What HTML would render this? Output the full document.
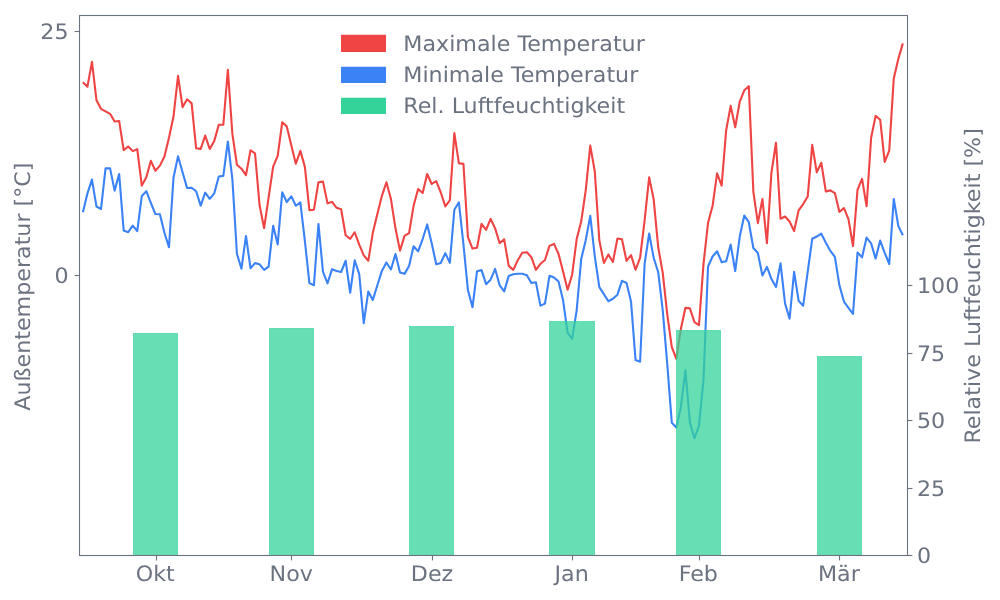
<!DOCTYPE html>
<html lang="de"><head><meta charset="utf-8"><title>Temperatur und Luftfeuchtigkeit</title>
<style>html,body{margin:0;padding:0;background:#fff;overflow:hidden}svg{display:block}text{font-family:"DejaVu Sans","Liberation Sans",sans-serif;font-size:22.2px;fill:#6b7280;text-rendering:geometricPrecision}</style></head><body>
<svg width="1000" height="600" viewBox="0 0 1000 600">
<rect width="1000" height="600" fill="#fff"/>
<g>
<polyline points="82.90,82.20 87.43,86.65 91.96,61.85 96.49,100.30 101.02,108.80 105.55,111.30 110.08,113.80 114.61,121.53 119.14,120.94 123.67,150.16 128.20,146.45 132.73,151.13 137.26,149.18 141.79,185.61 146.32,177.20 150.85,160.85 155.38,170.72 159.91,165.60 164.44,156.55 168.97,137.80 173.50,116.55 178.03,75.85 182.56,107.12 187.09,99.31 191.62,103.40 196.15,148.30 200.68,148.88 205.21,135.60 209.74,149.02 214.27,140.90 218.80,124.70 223.33,124.70 227.86,69.85 232.39,134.05 236.92,164.70 241.45,168.70 245.98,175.08 250.51,150.25 255.04,153.40 259.57,205.30 264.10,228.10 268.63,197.30 273.16,166.55 277.69,155.90 282.22,122.31 286.75,126.40 291.28,145.30 295.81,163.75 300.34,150.85 304.87,166.90 309.40,210.18 313.93,209.70 318.46,182.20 322.99,181.59 327.52,203.35 332.05,201.90 336.58,207.80 341.11,209.30 345.64,235.30 350.17,238.93 354.70,232.24 359.23,244.70 363.76,255.30 368.29,260.71 372.82,232.80 377.35,214.05 381.88,195.80 386.41,182.35 390.94,199.05 395.47,228.30 400.00,250.60 404.53,235.90 409.06,233.05 413.59,205.80 418.12,189.06 422.65,192.96 427.18,173.95 431.71,183.95 436.24,181.09 440.77,192.50 445.30,206.34 449.83,200.30 454.36,133.10 458.89,163.40 463.42,163.80 467.95,237.20 472.48,248.57 477.01,247.70 481.54,223.80 486.07,229.83 490.60,218.95 495.13,228.40 499.66,243.26 504.19,239.31 508.72,265.90 513.25,269.91 517.78,260.30 522.31,252.70 526.84,252.23 531.37,257.20 535.90,269.84 540.43,263.80 544.96,260.05 549.49,245.90 554.02,243.93 558.55,254.05 563.08,271.55 567.61,289.75 572.14,274.70 576.67,239.05 581.20,221.55 585.73,190.30 590.26,145.60 594.79,171.55 599.32,240.30 603.85,262.90 608.38,254.54 612.91,261.93 617.44,238.45 621.97,239.30 626.50,260.89 631.03,255.09 635.56,269.75 640.09,257.80 644.62,220.30 649.15,177.35 653.68,199.30 658.21,247.30 662.74,272.80 667.27,314.30 671.80,347.20 676.33,358.75 680.86,329.05 685.39,307.84 689.92,308.40 694.45,322.20 698.98,325.20 703.51,263.80 708.04,222.80 712.57,205.90 717.10,173.35 721.63,185.60 726.16,130.30 730.69,105.85 735.22,127.25 739.75,101.55 744.28,90.30 748.81,86.17 753.34,191.55 757.87,223.10 762.40,198.95 766.93,243.10 771.46,172.30 775.99,142.75 780.52,218.72 785.05,216.45 789.58,221.55 794.11,231.00 798.64,210.30 803.17,204.05 807.70,196.55 812.23,144.85 816.76,172.25 821.29,162.75 825.82,191.51 830.35,190.38 834.88,193.05 839.41,212.05 843.94,208.07 848.47,219.05 853.00,246.00 857.53,189.70 862.06,178.95 866.59,206.25 871.12,137.80 875.65,115.80 880.18,119.70 884.71,161.90 889.24,150.55 893.77,78.40 898.30,59.05 902.83,43.40" fill="none" stroke="#ef4444" stroke-width="2.1" stroke-linejoin="round" stroke-linecap="butt"/>
<polyline points="82.90,212.20 87.43,193.40 91.96,179.60 96.49,206.55 101.02,208.97 105.55,168.40 110.08,168.40 114.61,190.60 119.14,173.95 123.67,230.55 128.20,232.15 132.73,225.66 137.26,231.10 141.79,195.90 146.32,191.20 150.85,202.80 155.38,214.05 159.91,214.30 164.44,232.80 168.97,247.25 173.50,177.80 178.03,156.25 182.56,172.20 187.09,188.04 191.62,187.72 196.15,191.30 200.68,205.60 205.21,192.62 209.74,198.86 214.27,193.30 218.80,176.55 223.33,175.90 227.86,141.45 232.39,179.30 236.92,253.70 241.45,268.75 245.98,235.95 250.51,268.22 255.04,263.13 259.57,264.30 264.10,269.93 268.63,266.55 273.16,225.85 277.69,244.40 282.22,192.25 286.75,201.99 291.28,196.28 295.81,205.78 300.34,202.42 304.87,240.80 309.40,283.10 313.93,285.23 318.46,223.95 322.99,271.90 327.52,283.30 332.05,269.16 336.58,270.90 341.11,272.01 345.64,260.75 350.17,292.75 354.70,260.25 359.23,274.05 363.76,323.10 368.29,291.45 372.82,300.00 377.35,285.30 381.88,270.90 386.41,262.47 390.94,269.45 395.47,253.95 400.00,272.55 404.53,273.86 409.06,265.90 413.59,246.24 418.12,251.36 422.65,239.05 427.18,224.45 431.71,243.30 436.24,264.26 440.77,263.05 445.30,253.10 449.83,262.90 454.36,209.70 458.89,202.28 463.42,244.05 467.95,290.30 472.48,307.25 477.01,271.30 481.54,270.13 486.07,284.15 490.60,279.70 495.13,268.95 499.66,285.30 504.19,291.34 508.72,275.90 513.25,274.30 517.78,273.80 522.31,273.80 526.84,275.30 531.37,283.02 535.90,282.25 540.43,305.63 544.96,303.60 549.49,275.81 554.02,277.55 558.55,281.55 563.08,300.30 567.61,332.80 572.14,338.84 576.67,310.30 581.20,259.05 585.73,240.30 590.26,215.85 594.79,256.30 599.32,287.20 603.85,294.05 608.38,301.22 612.91,298.80 617.44,294.70 621.97,280.84 626.50,283.05 631.03,301.55 635.56,360.05 640.09,361.74 644.62,263.80 649.15,233.45 653.68,257.80 658.21,272.20 662.74,310.30 667.27,364.05 671.80,422.80 676.33,427.39 680.86,407.20 685.39,370.25 689.92,422.80 694.45,438.10 698.98,425.90 703.51,379.30 708.04,266.55 712.57,256.55 717.10,251.24 721.63,262.17 726.16,261.30 730.69,244.60 735.22,271.00 739.75,236.55 744.28,215.48 748.81,222.20 753.34,248.05 757.87,253.05 762.40,275.50 766.93,266.95 771.46,279.05 775.99,286.93 780.52,263.35 785.05,303.40 789.58,318.75 794.11,271.85 798.64,300.90 803.17,305.73 807.70,271.80 812.23,238.80 816.76,236.55 821.29,233.59 825.82,242.80 830.35,250.90 834.88,256.80 839.41,285.30 843.94,301.55 848.47,307.80 853.00,313.84 857.53,252.52 862.06,257.37 866.59,237.58 871.12,243.40 875.65,258.60 880.18,240.55 884.71,252.80 889.24,264.00 893.77,198.95 898.30,225.90 902.83,235.30" fill="none" stroke="#3b82f6" stroke-width="2.1" stroke-linejoin="round" stroke-linecap="butt"/>
</g>
<g fill="#34d399" fill-opacity="0.75">
<rect x="133" y="333" width="45" height="222.5"/>
<rect x="269" y="328" width="45" height="227.5"/>
<rect x="409" y="326" width="45" height="229.5"/>
<rect x="549" y="321" width="46" height="234.5"/>
<rect x="676" y="330" width="45" height="225.5"/>
<rect x="817" y="356" width="45" height="199.5"/>
</g>
<g fill="none" stroke="#34d399" stroke-opacity="0.1" stroke-width="1">
<path d="M133.5,555.5 V333.5 H177.5 V555.5"/>
<path d="M269.5,555.5 V328.5 H313.5 V555.5"/>
<path d="M409.5,555.5 V326.5 H453.5 V555.5"/>
<path d="M549.5,555.5 V321.5 H594.5 V555.5"/>
<path d="M676.5,555.5 V330.5 H720.5 V555.5"/>
<path d="M817.5,555.5 V356.5 H861.5 V555.5"/>
</g>
<rect x="79.5" y="15.5" width="828.0" height="540.0" fill="none" stroke="#6b7280" stroke-width="1.1"/>
<g stroke="#6b7280" stroke-width="1.1">
<line x1="156.5" y1="555.5" x2="156.5" y2="560.4"/>
<line x1="291.5" y1="555.5" x2="291.5" y2="560.4"/>
<line x1="432.5" y1="555.5" x2="432.5" y2="560.4"/>
<line x1="572.5" y1="555.5" x2="572.5" y2="560.4"/>
<line x1="699.5" y1="555.5" x2="699.5" y2="560.4"/>
<line x1="839.5" y1="555.5" x2="839.5" y2="560.4"/>
<line x1="74.6" y1="31.5" x2="79.5" y2="31.5"/>
<line x1="74.6" y1="275.5" x2="79.5" y2="275.5"/>
<line x1="907.5" y1="555.5" x2="912.4" y2="555.5"/>
<line x1="907.5" y1="488.5" x2="912.4" y2="488.5"/>
<line x1="907.5" y1="420.5" x2="912.4" y2="420.5"/>
<line x1="907.5" y1="353.5" x2="912.4" y2="353.5"/>
<line x1="907.5" y1="285.5" x2="912.4" y2="285.5"/>
</g>
<text transform="translate(155.3,581) scale(1,0.96)" text-anchor="middle">Okt</text>
<text transform="translate(291.2,581) scale(1,0.96)" text-anchor="middle">Nov</text>
<text transform="translate(432.0,581) scale(1,0.96)" text-anchor="middle">Dez</text>
<text transform="translate(571.6,581) scale(1,0.96)" text-anchor="middle">Jan</text>
<text transform="translate(698.3,581) scale(1,0.96)" text-anchor="middle">Feb</text>
<text transform="translate(838.9,581) scale(1,0.96)" text-anchor="middle">Mär</text>
<text transform="translate(68.6,39.0) scale(1,0.96)" text-anchor="end">25</text>
<text transform="translate(68.6,283.0) scale(1,0.96)" text-anchor="end">0</text>
<text transform="translate(917.0,563.0) scale(1,0.96)">0</text>
<text transform="translate(917.0,496.0) scale(1,0.96)">25</text>
<text transform="translate(917.0,428.0) scale(1,0.96)">50</text>
<text transform="translate(917.0,361.0) scale(1,0.96)">75</text>
<text transform="translate(917.0,293.0) scale(1,0.96)">100</text>
<text transform="translate(30.0,286.6) rotate(-90) scale(1,0.96)" text-anchor="middle">Außentemperatur [°C]</text>
<text transform="translate(980.2,285.9) rotate(-90) scale(1,0.96)" text-anchor="middle">Relative Luftfeuchtigkeit [%]</text>
<rect x="341" y="34.8" width="45" height="17.2" rx="0.6" fill="#ef4444"/>
<text transform="translate(403.3,51.0) scale(1,0.96)">Maximale Temperatur</text>
<rect x="341" y="66.8" width="45" height="16.2" rx="0.6" fill="#3b82f6"/>
<text transform="translate(403.3,82.0) scale(1,0.96)">Minimale Temperatur</text>
<rect x="341" y="97.8" width="45" height="16.2" rx="0.6" fill="#34d399"/>
<text transform="translate(403.3,113.0) scale(1,0.96)">Rel. Luftfeuchtigkeit</text>
</svg></body></html>
